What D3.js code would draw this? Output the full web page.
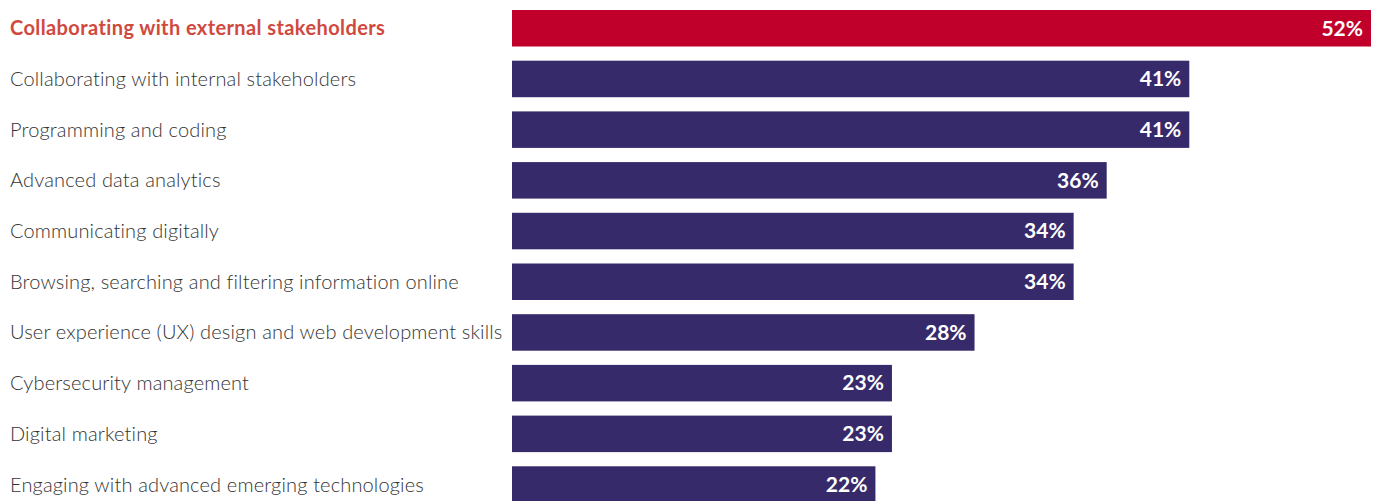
<!DOCTYPE html>
<html>
<head>
<meta charset="utf-8">
<script src="https://cdn.jsdelivr.net/npm/d3@7"></script>
<style>
  body { margin: 0; background: #fff; }
  svg { display: block; }
  .label { font-family: Lato, "Open Sans", sans-serif; font-size: 20px; font-weight: 300; fill: #333; letter-spacing: 0.15px; }
  .label.hi { fill: #d0493e; font-weight: bold; letter-spacing: 0.4px; }
  .value { font-family: Lato, "Open Sans", sans-serif; font-size: 21px; font-weight: bold; fill: #fff; }
</style>
</head>
<body>
<div id="chart"></div>
<script>
// Data
let skills = [
  "Collaborating with external stakeholders",
  "Collaborating with internal stakeholders",
  "Programming and coding",
  "Advanced data analytics",
  "Communicating digitally",
  "Browsing, searching and filtering information online",
  "User experience (UX) design and web development skills",
  "Cybersecurity management",
  "Digital marketing",
  "Engaging with advanced emerging technologies"
];
let shares = [52, 41, 41, 36, 34, 34, 28, 23, 23, 22];
let highlight = ["Collaborating with external stakeholders"];

let svgWidth = 1380;
let svgHeight = 501;

let svg = d3.select("#chart")
  .append("svg")
  .attr("width", svgWidth)
  .attr("height", svgHeight);

// scales
let x = d3.scaleLinear()
  .domain([0, 52])
  .range([512, 1371]);

let y = d3.scaleBand()
  .domain(skills)
  .range([10, 502.8])
  .paddingInner(0.28)
  .paddingOuter(0);

let rows = skills.map((s, i) => ({ skill: s, value: shares[i], hi: highlight.includes(s) }));

// bars
svg.selectAll("rect.bar")
  .data(rows)
  .enter()
  .append("rect")
  .attr("class", "bar")
  .attr("x", x(0))
  .attr("y", d => y(d.skill))
  .attr("width", d => x(d.value) - x(0))
  .attr("height", y.bandwidth())
  .attr("fill", d => d.hi ? "#c0002a" : "#372a6a");

// category labels
svg.selectAll("text.label")
  .data(rows)
  .enter()
  .append("text")
  .attr("class", d => d.hi ? "label hi" : "label")
  .attr("x", 10)
  .attr("y", d => y(d.skill) + y.bandwidth() / 2)
  .attr("dy", "0.35em")
  .text(d => d.skill);

// value labels
svg.selectAll("text.value")
  .data(rows)
  .enter()
  .append("text")
  .attr("class", "value")
  .attr("x", d => x(d.value) - 8)
  .attr("y", d => y(d.skill) + y.bandwidth() / 2)
  .attr("dy", "0.35em")
  .attr("text-anchor", "end")
  .text(d => d.value + "%");
</script>
</body>
</html>
